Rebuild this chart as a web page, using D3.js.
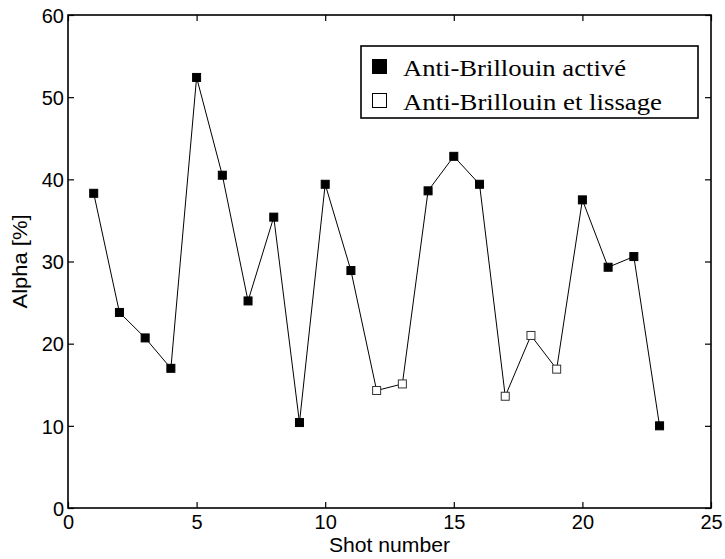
<!DOCTYPE html>
<html>
<head>
<meta charset="utf-8">
<script src="https://cdn.jsdelivr.net/npm/d3@7"></script>
<style>
  html, body { margin: 0; padding: 0; background: #fff; }
  svg { display: block; }
</style>
</head>
<body>
<svg id="chart" width="725" height="559"></svg>
<script>
// Shot numbers and measured Alpha [%] per shot
const shots = [1, 2, 3, 4, 5, 6, 7, 8, 9, 10, 11, 12, 13, 14, 15, 16, 17, 18, 19, 20, 21, 22, 23];
const alpha = [38.3, 23.8, 20.7, 17.0, 52.4, 40.5, 25.2, 35.4, 10.4, 39.4, 28.9, 14.3, 15.1, 38.6, 42.8, 39.4, 13.6, 21.0, 16.9, 37.5, 29.3, 30.6, 10.0];
// true = anti-Brillouin plus smoothing (open marker)
const smoothed = [false, false, false, false, false, false, false, false, false, false, false, true, true, false, false, false, true, true, true, false, false, false, false];
const xTicks = [0, 5, 10, 15, 20, 25];
const yTicks = [0, 10, 20, 30, 40, 50, 60];
const legendLabels = ["Anti-Brillouin activé", "Anti-Brillouin et lissage"];

const svg = d3.select("#chart");
const plotL = 68, plotR = 711, plotT = 15, plotB = 508;

const x = d3.scaleLinear().domain([0, 25]).range([plotL, plotR]);
const y = d3.scaleLinear().domain([0, 60]).range([plotB, plotT]);

const sans = "'Liberation Sans', Arial, Helvetica, sans-serif";
const serif = "'Liberation Serif', 'Times New Roman', Times, serif";

// Frame
svg.append("rect")
  .attr("x", plotL).attr("y", plotT)
  .attr("width", plotR - plotL).attr("height", plotB - plotT)
  .attr("fill", "none").attr("stroke", "#000").attr("stroke-width", 1.6);

// Axes with inward ticks on all four sides
const tickLen = 6;
const axB = svg.append("g").attr("transform", `translate(0,${plotB})`)
  .call(d3.axisBottom(x).tickValues(xTicks).tickSize(-tickLen));
const axT = svg.append("g").attr("transform", `translate(0,${plotT})`)
  .call(d3.axisTop(x).tickValues(xTicks).tickSize(-tickLen).tickFormat(""));
const axL = svg.append("g").attr("transform", `translate(${plotL},0)`)
  .call(d3.axisLeft(y).tickValues(yTicks).tickSize(-tickLen));
const axR = svg.append("g").attr("transform", `translate(${plotR},0)`)
  .call(d3.axisRight(y).tickValues(yTicks).tickSize(-tickLen).tickFormat(""));

[axB, axT, axL, axR].forEach(g => {
  g.select(".domain").remove();
  g.selectAll(".tick line").attr("stroke", "#000").attr("stroke-width", 1.2);
  g.selectAll("text").attr("fill", "#000").style("font-family", sans).style("font-size", "20px");
});
axB.selectAll("text").attr("y", 21).attr("dy", 0);
axL.selectAll("text").attr("x", -4).attr("dy", "0.36em");

// Axis titles
svg.append("text")
  .attr("x", (plotL + plotR) / 2).attr("y", 552)
  .attr("text-anchor", "middle")
  .attr("textLength", 121).attr("lengthAdjust", "spacingAndGlyphs")
  .style("font-family", sans).style("font-size", "20px")
  .text("Shot number");

svg.append("text")
  .attr("transform", `translate(27,${(plotT + plotB) / 2}) rotate(-90)`)
  .attr("text-anchor", "middle")
  .attr("textLength", 94).attr("lengthAdjust", "spacingAndGlyphs")
  .style("font-family", sans).style("font-size", "20px")
  .text("Alpha [%]");

// Connecting line
const pts = shots.map((s, i) => ({ s, a: alpha[i], open: smoothed[i] }));
svg.append("path")
  .datum(pts)
  .attr("fill", "none").attr("stroke", "#000").attr("stroke-width", 1)
  .attr("d", d3.line().x(d => x(d.s)).y(d => y(d.a)));

// Square markers
const ms = 8;
svg.append("g").selectAll("rect")
  .data(pts)
  .join("rect")
  .attr("x", d => x(d.s) - ms / 2)
  .attr("y", d => y(d.a) - ms / 2)
  .attr("width", ms).attr("height", ms)
  .attr("fill", d => d.open ? "#fff" : "#000")
  .attr("stroke", d => d.open ? "#333" : "#000")
  .attr("stroke-width", 1);

// Legend
const lg = svg.append("g");
lg.append("rect")
  .attr("x", 361).attr("y", 46).attr("width", 337).attr("height", 72)
  .attr("fill", "#fff").attr("stroke", "#000").attr("stroke-width", 1.6);
const rows = [
  { label: legendLabels[0], open: false, cy: 66.5, len: 223 },
  { label: legendLabels[1], open: true, cy: 100.5, len: 259 }
];
rows.forEach(r => {
  lg.append("rect")
    .attr("x", r.open ? 372.5 : 372).attr("y", r.cy - 7.5 + (r.open ? 0.5 : 0))
    .attr("width", r.open ? 14 : 15).attr("height", r.open ? 14 : 15)
    .attr("fill", r.open ? "#fff" : "#000")
    .attr("stroke", "#000").attr("stroke-width", r.open ? 1 : 0);
  lg.append("text")
    .attr("x", 403).attr("y", r.cy + 9.5)
    .attr("textLength", r.len).attr("lengthAdjust", "spacingAndGlyphs")
    .style("font-family", serif).style("font-size", "23px")
    .text(r.label);
});
</script>
</body>
</html>
